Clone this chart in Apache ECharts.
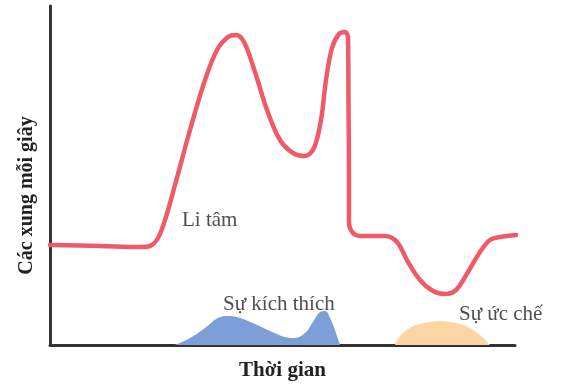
<!DOCTYPE html>
<html><head><meta charset="utf-8">
<script src="https://cdn.jsdelivr.net/npm/echarts@6/dist/echarts.min.js"></script>
<style>html,body{margin:0;padding:0;background:#fff}#c{width:572px;height:390px}</style>
</head><body><div id="c"></div>
<script>
// Firing rate (red line): time, impulses per second
const rateTime = [0,50,90,100,108,115,125,140,155,167,178,186,194,205,217,230,243,255,264,271,276,282,289,295,298,298.5,299,299,303,312,335,347,358,370,383,395,406,418,430,440,450,466];
const rateVal  = [100,99,98,99,107,125,160,215,265,295,308,310,303,273,235,205,192,189,197,225,265,297,311,313,307,245,165,123,112,109,109,103,83,65,54,51,55,73,93,105,108,110];
// Stimulus (blue area)
const stimTime = [125,140,155,168,178,190,205,220,235,245,255,263,270,275,281,286,290];
const stimVal  = [0,7,17,27,29,27,21,14,8,7,12,23,33,34,25,12,0];
// Inhibition (orange area)
const inhTime = [345,350,360,370,390,410,420,430,440];
const inhVal  = [0,9,17,21,24,21,17,10,0];
// Annotation labels
const noteText = ['Li tâm','Sự kích thích','Sự ức chế'];
const noteTime = [132,173,409];
const noteVal  = [125,41,31];
const xTitle = 'Thời gian';
const yTitle = 'Các xung mỗi giây';

const zip = (a,b)=>a.map((v,i)=>[v,b[i]]);
const serif = '"Liberation Serif","Times New Roman",serif';
const chart = echarts.init(document.getElementById('c'));
chart.setOption({
  animation:false,
  grid:{left:50,right:57,top:6,bottom:45},
  xAxis:{type:'value',min:0,max:465,
    name:xTitle,nameLocation:'middle',nameGap:15,
    nameTextStyle:{fontFamily:serif,fontWeight:'bold',fontSize:21,color:'#222'},
    axisLine:{lineStyle:{color:'#333',width:3}},axisTick:{show:false},axisLabel:{show:false},splitLine:{show:false}},
  yAxis:{type:'value',min:0,max:339,
    name:yTitle,nameLocation:'middle',nameGap:13,nameRotate:90,
    nameTextStyle:{fontFamily:serif,fontWeight:'bold',fontSize:20,color:'#222',padding:[0,40,0,0]},
    axisLine:{show:true,lineStyle:{color:'#333',width:3}},axisTick:{show:false},axisLabel:{show:false},splitLine:{show:false}},
  series:[
    {type:'line',data:zip(stimTime,stimVal),smooth:0.4,showSymbol:false,
      lineStyle:{width:0},areaStyle:{color:'#7b9fd6',opacity:1},z:1},
    {type:'line',data:zip(inhTime,inhVal),smooth:0.4,showSymbol:false,
      lineStyle:{width:0},areaStyle:{color:'#fed5a3',opacity:1},z:1},
    {type:'line',data:zip(rateTime,rateVal),smooth:0.35,showSymbol:false,
      lineStyle:{width:4.5,color:'#ef5a68',cap:'round',join:'round'},z:3},
    {type:'scatter',symbolSize:0,z:5,
      data:noteTime.map((t,i)=>({value:[t,noteVal[i]],name:noteText[i]})),
      label:{show:true,position:'right',distance:0,formatter:p=>p.name,
        fontFamily:serif,fontSize:21,color:'#222'}}
  ]
});
</script></body></html>
